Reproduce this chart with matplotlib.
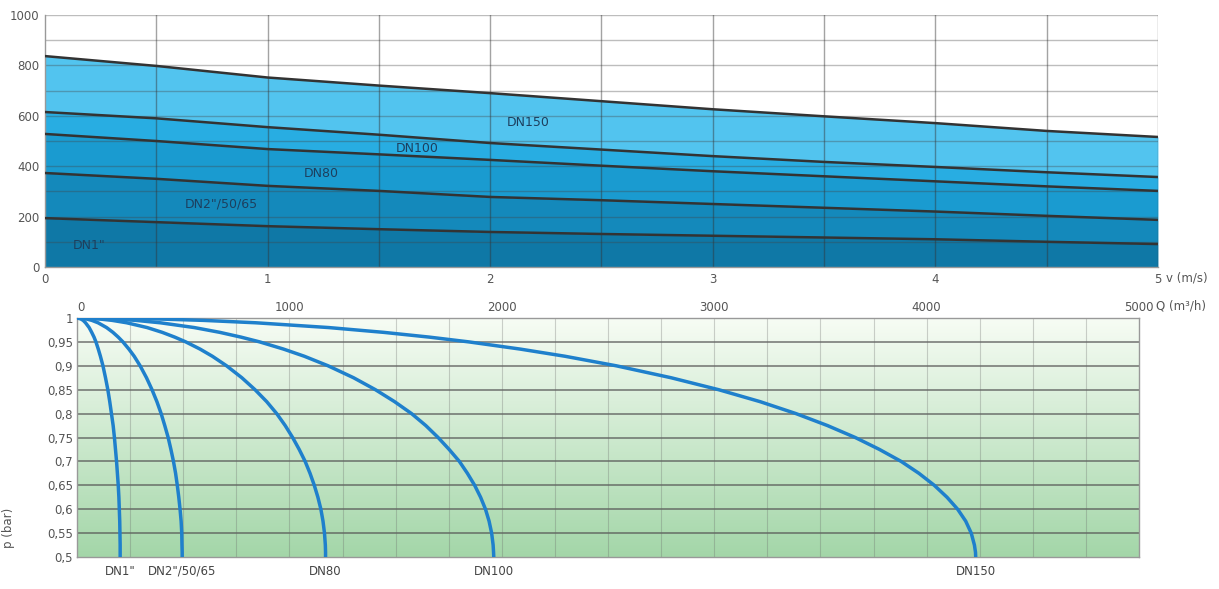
import numpy as np
import matplotlib
matplotlib.use("Agg")
import matplotlib.pyplot as plt

# --- top chart: pressure-loss bands vs. velocity ---
v = [0, 0.5, 1, 1.5, 2, 2.5, 3, 3.5, 4, 4.5, 5]
top_dn1 = [194, 178, 162, 150, 139, 131, 124, 117, 110, 100, 91]
top_dn2 = [373, 350, 322, 302, 278, 265, 250, 235, 220, 203, 187]
top_dn80 = [528, 500, 468, 447, 425, 402, 380, 360, 340, 320, 302]
top_dn100 = [615, 590, 555, 525, 492, 466, 440, 417, 397, 376, 357]
top_dn150 = [837, 798, 752, 720, 690, 658, 626, 598, 571, 540, 516]
top_labels = ['DN1"', 'DN2"/50/65', 'DN80', 'DN100', 'DN150']

# --- bottom chart: pressure vs. flow ---
p_levels = [1, 0.998, 0.995, 0.99, 0.98, 0.97, 0.96, 0.95, 0.935, 0.92, 0.9, 0.875,
            0.85, 0.825, 0.8, 0.775, 0.75, 0.725, 0.7, 0.675, 0.65, 0.625, 0.6,
            0.575, 0.55, 0.525, 0.51, 0.5]
q_dn1 = [0, 18, 29, 40, 57, 69, 80, 89, 100, 110, 122, 134, 145, 154, 162, 170, 176,
         181, 186, 190, 194, 197, 199, 201, 202, 203, 203, 203]
q_dn2 = [0, 44, 70, 99, 139, 169, 194, 216, 244, 269, 297, 327, 353, 376, 396, 413,
         429, 442, 454, 464, 472, 479, 485, 490, 493, 494, 495, 495]
q_dn80 = [0, 105, 166, 234, 330, 401, 460, 512, 579, 637, 704, 776, 838, 893, 940, 980,
          1015, 1046, 1074, 1097, 1117, 1134, 1148, 1158, 1165, 1169, 1170, 1170]
q_dn100 = [0, 175, 277, 392, 552, 672, 772, 860, 972, 1070, 1182, 1302, 1405, 1495,
           1575, 1642, 1700, 1752, 1800, 1838, 1872, 1900, 1923, 1940, 1952, 1959,
           1961, 1962]
q_dn150 = [0, 378, 597, 842, 1185, 1443, 1659, 1845, 2086, 2297, 2539, 2797, 3021,
           3216, 3385, 3533, 3664, 3778, 3880, 3964, 4036, 4096, 4146, 4184, 4210,
           4225, 4230, 4231]
bottom_labels = ['DN1"', 'DN2"/50/65', 'DN80', 'DN100', 'DN150']

txt = '#555555'
fig = plt.figure(figsize=(12.19, 5.89), dpi=100)

# ---------------- top ----------------
ax1 = fig.add_axes([0.0369, 0.5467, 0.913, 0.4278])
band_colors = ['#0f78a6', '#1489bb', '#1a9bd0', '#28ade2', '#52c4ef']
curves = [top_dn1, top_dn2, top_dn80, top_dn100, top_dn150]
lower = [0] * len(v)
for c, col in zip(curves, band_colors):
    ax1.fill_between(v, lower, c, color=col, lw=0, zorder=1)
    lower = c
for c in curves:
    ax1.plot(v, c, color='#333333', lw=1.8, zorder=4)

for y in range(100, 1001, 100):
    ax1.axhline(y, color='#444444', lw=1.0, alpha=0.35, zorder=2)
for x in np.arange(0.5, 5.01, 0.5):
    ax1.axvline(x, color='#333333', lw=1.0, alpha=0.45, zorder=2)

lab_pos = [(0.2, 87), (0.79, 250), (1.24, 373), (1.67, 472), (2.17, 575)]
for (x, y), t in zip(lab_pos, top_labels):
    ax1.text(x, y, t, color='#1d3f5e', fontsize=9, ha='center', va='center', zorder=5)

ax1.set_xlim(0, 5)
ax1.set_ylim(0, 1000)
ax1.set_xticks([0, 1, 2, 3, 4, 5])
ax1.set_yticks(range(0, 1001, 200))
ax1.tick_params(length=0, labelsize=8.5, colors=txt, pad=4)
for s in ax1.spines.values():
    s.set_color('#999999')
    s.set_linewidth(1.0)
ax1.spines['top'].set_visible(False)
ax1.spines['right'].set_visible(False)
fig.text(1166 / 1219, 1 - 278 / 589, 'v (m/s)', color=txt, fontsize=8.5,
         ha='left', va='center')

# ---------------- bottom ----------------
ax2 = fig.add_axes([0.0632, 0.0543, 0.8712, 0.4058])
grad = np.linspace(0, 1, 256).reshape(-1, 1)
top_c = np.array([0.97, 0.99, 0.96])
bot_c = np.array([0.64, 0.84, 0.66])
img = top_c + (bot_c - top_c) * grad[..., None]
ax2.imshow(img, extent=[0, 5000, 0.5, 1], aspect='auto', origin='upper', zorder=0)

for y in np.arange(0.55, 1.0, 0.05):
    ax2.axhline(y, color='#555555', lw=1.2, alpha=0.75, zorder=1)
for x in np.arange(250, 5000, 250):
    ax2.axvline(x, color='#666666', lw=0.8, alpha=0.3, zorder=1)

q_curves = [q_dn1, q_dn2, q_dn80, q_dn100, q_dn150]
for q in q_curves:
    ax2.plot(q, p_levels, color='#1f80cc', lw=2.5, solid_capstyle='round',
             solid_joinstyle='round', zorder=3)

for q, t in zip(q_curves, bottom_labels):
    ax2.text(q[-1], 0.47, t, color='#444444', fontsize=8.5, ha='center', va='center',
             clip_on=False)

ax2.set_xlim(0, 5000)
ax2.set_ylim(0.5, 1)
ax2.xaxis.tick_top()
ax2.set_xticks([0, 1000, 2000, 3000, 4000, 5000])
ax2.get_xticklabels()[0].set_horizontalalignment('left')
yt = np.round(np.arange(0.5, 1.001, 0.05), 2)
ax2.set_yticks(yt)
ax2.set_yticklabels([('%g' % t).replace('.', ',') for t in yt])
ax2.tick_params(length=0, labelsize=8.5, colors=txt, pad=3)
ax2.set_ylabel('p (bar)', color=txt, fontsize=8.5, labelpad=6)
ax2.yaxis.set_label_coords(-0.058, 0.12)
for s in ax2.spines.values():
    s.set_color('#999999')
    s.set_linewidth(1.0)
fig.text(1156 / 1219, 1 - 306 / 589, 'Q (m³/h)', color=txt, fontsize=8.5,
         ha='left', va='center')

fig.savefig('out.png', dpi=100)
